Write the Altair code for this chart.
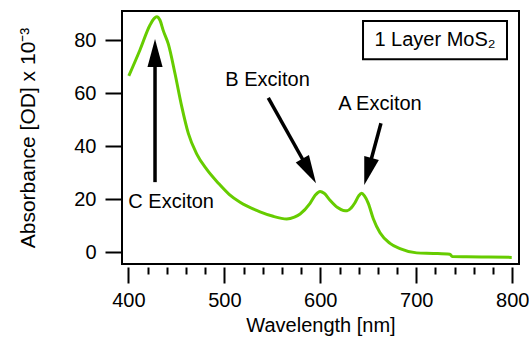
import altair as alt
import pandas as pd

# Absorption spectrum (wavelength nm, absorbance x1e-3)
wavelength = [400.5, 412, 422.6, 427, 429.6, 433, 436.5, 441.7, 448.6, 455.6, 462.5,
              471.3, 481.7, 493.8, 505, 516.4, 537.2, 550, 565, 573, 579, 589.3, 595,
              599.7, 604, 610.1, 618, 624, 628, 632, 636.1, 640, 643.1, 646, 650,
              655.2, 662.2, 672.6, 683, 700.4, 717.7, 735, 737.5, 752.5, 775, 799.4]
absorbance = [66.5, 76.2, 85.7, 88.2, 88.8, 87.5, 83.5, 78.5, 67.4, 55.0, 44.8,
              37.0, 31.2, 26.0, 21.8, 18.8, 15.2, 13.6, 12.5, 13.2, 14.4, 18.4, 21.6,
              22.9, 22.2, 19.6, 16.8, 15.7, 15.6, 16.6, 18.6, 21.2, 22.2, 21.2, 18.4,
              12.6, 7.3, 3.3, 1.3, -0.3, -0.5, -0.8, -1.7, -1.8, -1.9, -2.0]

# Annotations
label_text = ["C Exciton", "B Exciton", "A Exciton"]
label_wl = [444.6, 545.0, 662.2]
label_v = [19.0, 64.9, 55.8]

arrow_tail_wl = [427.8, 545.8, 663.2]
arrow_tail_v = [26.4, 58.2, 48.6]
arrow_head_wl = [427.8, 588.4, 649.6]
arrow_head_v = [75.1, 30.6, 30.4]
arrow_angle = [0, 150.8, 195.1]

box_text = ["1 Layer MoS\u2082"]
box_wl = [644.5, 794.5]
box_v = [72.8, 87.2]

major_ticks = [400, 500, 600, 700, 800]
minor_ticks = [420, 440, 460, 480, 520, 540, 560, 580, 620, 640, 660, 680,
               720, 740, 760, 780]
y_ticks = [0, 20, 40, 60, 80]

FONT = "Liberation Sans"
YTITLE = "Absorbance [OD] x 10\u207b\u00b3"

spec_df = pd.DataFrame({"wl": wavelength, "v": absorbance})
lab_df = pd.DataFrame({"wl": label_wl, "v": label_v, "t": label_text})
arr_df = pd.DataFrame({"wl": arrow_tail_wl, "v": arrow_tail_v,
                       "wl2": arrow_head_wl, "v2": arrow_head_v,
                       "ang": arrow_angle})
boxr_df = pd.DataFrame({"wl": [box_wl[0]], "wl2": [box_wl[1]],
                        "v": [box_v[0]], "v2": [box_v[1]]})
boxt_df = pd.DataFrame({"wl": [(box_wl[0] + box_wl[1]) / 2],
                        "v": [(box_v[0] + box_v[1]) / 2], "t": box_text})

xscale = alt.Scale(domain=[393.4, 807], nice=False, zero=False)
yscale = alt.Scale(domain=[-4.5, 91], nice=False, zero=False)

x_major_axis = alt.Axis(values=major_ticks, tickSize=16, tickWidth=2, tickColor="black",
                        domain=False, grid=False, offset=3, orient="bottom",
                        labelFontSize=20, labelFont=FONT, labelColor="black",
                        labelPadding=7, title="Wavelength [nm]", titleFont=FONT,
                        titleFontSize=20, titleFontWeight="normal", titleColor="black",
                        titlePadding=5)
x_minor_axis = alt.Axis(values=minor_ticks, tickSize=7, tickWidth=2, tickColor="black",
                        domain=False, grid=False, offset=3, orient="bottom",
                        labels=False, title="")
y_axis = alt.Axis(values=y_ticks, tickSize=17, tickWidth=2, tickColor="black",
                  domain=False, grid=False, labelFontSize=20, labelFont=FONT,
                  labelColor="black", labelPadding=9,
                  title=YTITLE, titleFont=FONT,
                  titleFontSize=21, titleFontWeight="normal", titleColor="black",
                  titlePadding=35)

Y = alt.Y("v:Q", scale=yscale, axis=y_axis, title=YTITLE)

curve = alt.Chart(spec_df).mark_line(color="#66CC00", strokeWidth=3,
                                     interpolate="monotone").encode(
    x=alt.X("wl:Q", scale=xscale, axis=x_major_axis),
    y=Y,
)

shafts = alt.Chart(arr_df).mark_rule(color="black", strokeWidth=3.5).encode(
    x=alt.X("wl:Q", scale=xscale, axis=x_minor_axis),
    y=Y,
    x2="wl2:Q",
    y2="v2:Q",
)

heads = alt.Chart(arr_df).mark_point(shape="M0,-1L-0.54,1L0.54,1Z", filled=True,
                                     color="black", opacity=1, size=784).encode(
    x=alt.X("wl2:Q", scale=xscale, axis=None),
    y=alt.Y("v2:Q", scale=yscale, axis=y_axis, title=YTITLE),
    angle=alt.Angle("ang:Q", scale=None),
)

labels = alt.Chart(lab_df).mark_text(font=FONT, fontSize=20, color="black",
                                     align="center", baseline="middle").encode(
    x=alt.X("wl:Q", scale=xscale, axis=None),
    y=Y,
    text="t:N",
)

box = alt.Chart(boxr_df).mark_rect(fill="white", stroke="black", strokeWidth=2).encode(
    x=alt.X("wl:Q", scale=xscale, axis=None),
    x2="wl2:Q",
    y=Y,
    y2="v2:Q",
)

box_label = alt.Chart(boxt_df).mark_text(font=FONT, fontSize=20, color="black",
                                         align="center", baseline="middle").encode(
    x=alt.X("wl:Q", scale=xscale, axis=None),
    y=Y,
    text="t:N",
)

chart = alt.layer(curve, shafts, heads, labels, box, box_label).resolve_axis(
    x="independent"
).properties(
    width=397, height=253,
    padding={"left": 122, "top": 11, "right": 10, "bottom": 75},
    autosize=alt.AutoSizeParams(type="none"),
    background="white",
).configure_view(stroke="black", strokeWidth=2)

chart.save("out.html", embed_options={"renderer": "svg", "actions": False})
